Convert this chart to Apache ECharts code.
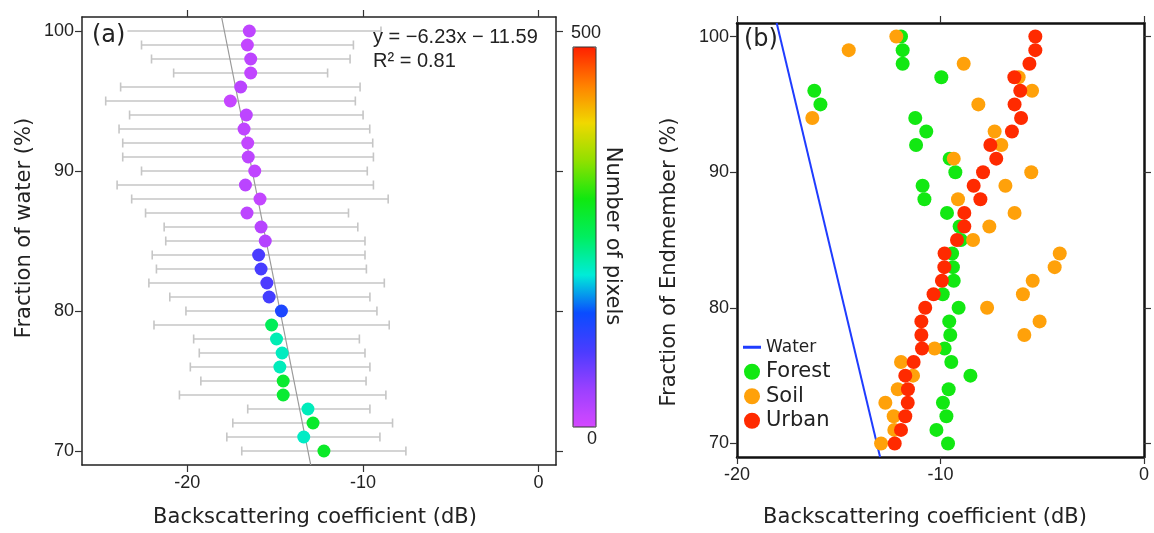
<!DOCTYPE html>
<html><head><meta charset="utf-8">
<style>html,body{margin:0;padding:0;background:#fff}#chart{width:1154px;height:533px}</style>
<script src="https://cdn.jsdelivr.net/npm/echarts@6/dist/echarts.min.js"></script>
</head><body><div id="chart"></div><script>
// ---- data (rows from 100% down to 70%) ----
const fractionLevels = [100,99,98,97,96,95,94,93,92,91,90,89,88,87,86,85,84,83,82,81,80,79,78,77,76,75,74,73,72,71,70];
const waterMean  = [-16.47,-16.58,-16.39,-16.39,-16.96,-17.55,-16.64,-16.77,-16.56,-16.53,-16.16,-16.69,-15.86,-16.6,-15.8,-15.56,-15.94,-15.8,-15.47,-15.34,-14.64,-15.2,-14.92,-14.6,-14.73,-14.54,-14.54,-13.13,-12.84,-13.37,-12.22];
const waterLow   = [-24.0,-22.61,-22.04,-20.78,-23.8,-24.65,-23.29,-23.89,-23.68,-23.68,-22.61,-24.0,-23.17,-22.38,-21.32,-21.23,-22.0,-21.76,-22.19,-21.0,-20.08,-21.9,-19.64,-19.32,-19.83,-19.23,-20.45,-16.56,-17.41,-17.75,-16.9];
const waterHigh  = [-8.97,-10.54,-10.73,-12.01,-10.16,-10.43,-9.99,-9.61,-9.44,-9.4,-9.75,-9.4,-8.56,-10.82,-10.29,-9.88,-9.88,-9.8,-8.78,-9.6,-9.2,-8.5,-10.2,-9.88,-9.6,-9.82,-8.69,-9.6,-8.31,-9.03,-7.55];
const pixelCount = [18,15,20,16,22,12,20,18,15,20,17,22,15,20,25,28,100,102,98,105,135,255,215,210,212,280,278,212,282,208,285];
const fitLineX = [-18.05,-12.97];
const fitLineY = [101,69];

const forestX = [-11.94,-11.86,-11.86,-9.96,-16.2,-15.9,-11.24,-10.7,-11.2,-9.55,-9.27,-10.88,-10.79,-9.68,-9.06,-9.0,-9.43,-9.39,-9.35,-9.89,-9.11,-9.57,-9.52,-9.8,-9.47,-8.53,-9.6,-9.88,-9.71,-10.2,-9.63];
const soilX   = [-12.17,-14.51,-8.86,-6.16,-5.5,-8.14,-16.3,-7.34,-7.01,-9.35,-5.54,-6.81,-9.14,-6.36,-7.6,-8.4,-4.14,-4.39,-5.47,-5.95,-7.71,-5.13,-5.88,-10.29,-11.94,-11.35,-12.1,-12.71,-12.3,-12.27,-12.92];
const urbanX  = [-5.34,-5.34,-5.63,-6.37,-6.08,-6.36,-6.04,-6.49,-7.55,-7.26,-7.91,-8.37,-8.04,-8.83,-8.83,-9.19,-9.8,-9.81,-9.93,-10.34,-10.75,-10.94,-10.94,-10.91,-11.32,-11.73,-11.6,-11.61,-11.73,-11.94,-12.25];
const waterLineX = [-18.05,-12.97];
const waterLineY = [101,69];

const yTicks = [70,80,90,100];
const xTicksA = [-20,-10,0];
const xTicksB = [-20,-10,0];
const colorScale = ['#d448ff','#9a40ff','#4a3cff','#0a4cff','#00ecd8','#00ee60','#10e810','#90e000','#f0d800','#ff8000','#ff2000'];

// ---- build ----
const tickFont = {fontFamily:'Liberation Sans Narrow, Liberation Sans, sans-serif', fontSize:18, color:'#222'};
const nameFont = {fontFamily:'DejaVu Sans', fontSize:21, color:'#222'};
const zip = (xs, ys) => xs.map((x,i)=>[x, ys[i]]);

function xAx(grid, pos, min, max, lw, col, named, pad, gap){
  const ticks = grid===0 ? xTicksA : xTicksB;
  return {type:'value', gridIndex:grid, position:pos, min:min, max:max,
    axisLine:{show:true, onZero:false, lineStyle:{color:col, width:lw}},
    axisTick:{show:true, inside:false, length:7, customValues:ticks, lineStyle:{color:'#333', width:1.2}},
    axisLabel:{show:named, customValues:ticks, margin:9, ...tickFont},
    splitLine:{show:false},
    name: named ? 'Backscattering coefficient (dB)' : '', nameLocation:'middle', nameGap:gap,
    nameTextStyle:{...nameFont, padding:[0,pad,0,0]}};
}
function yAx(grid, pos, lw, col, named, title, padL, padR, gap){
  return {type:'value', gridIndex:grid, position:pos, min:69, max:101,
    axisLine:{show:true, onZero:false, lineStyle:{color:col, width:lw}},
    axisTick:{show:true, inside:false, length:7, customValues:yTicks, lineStyle:{color:'#333', width:1.2}},
    axisLabel:{show:named, customValues:yTicks, margin:8, ...tickFont},
    splitLine:{show:false},
    name: named ? title : '', nameLocation:'middle', nameGap:gap,
    nameTextStyle:{...nameFont, padding:[0,padR,0,padL]}};
}

const errData = fractionLevels.map((f,i)=>[waterLow[i], waterHigh[i], f]);
const meanData = fractionLevels.map((f,i)=>[waterMean[i], f, pixelCount[i]]);

const option = {
  animation:false,
  backgroundColor:'#fff',
  grid:[
    {left:82, top:17, width:474, height:449},
    {left:737, top:23, width:407, height:435}
  ],
  xAxis:[
    xAx(0,'bottom',-26,1,1.5,'#222',true,8,42),
    xAx(0,'top',-26,1,1.5,'#222',false,0,0),
    xAx(1,'bottom',-20,0,2.5,'#111',true,31,50),
    xAx(1,'top',-20,0,2.5,'#111',false,0,0)
  ],
  yAxis:[
    yAx(0,'left',1.5,'#222',true,'Fraction of water (%)',26,0,47),
    yAx(0,'right',1.5,'#222',false,'',0,0,0),
    yAx(1,'left',2.5,'#111',true,'Fraction of Endmember (%)',0,44,57),
    yAx(1,'right',2.5,'#111',false,'',0,0,0)
  ],
  visualMap:{
    type:'continuous', min:0, max:500, dimension:2, seriesIndex:2,
    calculable:false, hoverLink:false, realtime:false,
    left:573, top:47, itemWidth:23, itemHeight:380, padding:0,
    text:null, showLabel:false,
    inRange:{color:colorScale}
  },
  legend:{
    orient:'vertical', left:743, top:335, padding:0, itemGap:0,
    itemWidth:18, itemHeight:16, selectedMode:false,
    textStyle:{fontFamily:'DejaVu Sans', fontSize:21, color:'#222', lineHeight:24.5},
    data:[
      {name:'Water', icon:'path://M0,0 L18,0 L18,3 L0,3 Z', itemStyle:{color:'#1f3cff'}, textStyle:{fontSize:17}},
      {name:'Forest', icon:'circle'},{name:'Soil', icon:'circle'},{name:'Urban', icon:'circle'}
    ]
  },
  series:[
    {type:'custom', name:'range', xAxisIndex:0, yAxisIndex:0, data:errData,
      encode:{x:[0,1], y:2}, silent:true, z:1,
      renderItem:function(params, api){
        const y = api.value(2);
        const p1 = api.coord([api.value(0), y]);
        const p2 = api.coord([api.value(1), y]);
        const h = 4.5;
        const st = {stroke:'#c6c6c6', lineWidth:1.6};
        return {type:'group', children:[
          {type:'line', shape:{x1:p1[0],y1:p1[1],x2:p2[0],y2:p2[1]}, style:st},
          {type:'line', shape:{x1:p1[0],y1:p1[1]-h,x2:p1[0],y2:p1[1]+h}, style:st},
          {type:'line', shape:{x1:p2[0],y1:p2[1]-h,x2:p2[0],y2:p2[1]+h}, style:st}
        ]};
      }},
    {type:'line', name:'fit', xAxisIndex:0, yAxisIndex:0, data:zip(fitLineX, fitLineY),
      symbol:'none', lineStyle:{color:'#999', width:1.2}, z:2, silent:true},
    {type:'scatter', name:'mean', xAxisIndex:0, yAxisIndex:0, data:meanData,
      symbolSize:13, itemStyle:{opacity:1}, z:3},
    {type:'line', name:'Water', xAxisIndex:2, yAxisIndex:2, data:zip(waterLineX, waterLineY),
      symbol:'none', showSymbol:false, color:'#1f3cff', lineStyle:{color:'#1f3cff', width:2}, z:2},
    {type:'scatter', name:'Forest', xAxisIndex:2, yAxisIndex:2, data:zip(forestX, fractionLevels),
      symbolSize:14, itemStyle:{color:'#12e812', opacity:1}, z:3},
    {type:'scatter', name:'Soil', xAxisIndex:2, yAxisIndex:2, data:zip(soilX, fractionLevels),
      symbolSize:14, itemStyle:{color:'#ffa10a', opacity:1}, z:4},
    {type:'scatter', name:'Urban', xAxisIndex:2, yAxisIndex:2, data:zip(urbanX, fractionLevels),
      symbolSize:14, itemStyle:{color:'#ff2a00', opacity:1}, z:5}
  ],
  graphic:[
    {type:'text', left:90, top:22, z:10, style:{text:'(a)', font:'24px DejaVu Sans', fill:'#222', backgroundColor:'#fff', padding:[2,2,2,2]}},
    {type:'text', left:373, top:27, z:10, style:{text:'y = \u22126.23x \u2212 11.59', font:'20px Liberation Sans', fill:'#222'}},
    {type:'text', left:373, top:51, z:10, style:{text:'R\u00b2 = 0.81', font:'20px Liberation Sans', fill:'#222'}},
    {type:'rect', z:10, shape:{x:573, y:47, width:23, height:380}, style:{fill:null, stroke:'#333', lineWidth:1}},
    {type:'text', x:586, y:33, z:10, style:{text:'500', font:'18px Liberation Sans Narrow, Liberation Sans', fill:'#222', align:'center', verticalAlign:'middle'}},
    {type:'text', x:592, y:439, z:10, style:{text:'0', font:'18px Liberation Sans Narrow, Liberation Sans', fill:'#222', align:'center', verticalAlign:'middle'}},
    {type:'text', x:612, y:236, rotation:-Math.PI/2, z:10, style:{text:'Number of pixels', font:'21px DejaVu Sans', fill:'#222', align:'center', verticalAlign:'middle'}},
    {type:'text', left:744, top:28, z:10, style:{text:'(b)', font:'24px DejaVu Sans', fill:'#222'}}
  ]
};
const chart = echarts.init(document.getElementById('chart'), null, {renderer:'canvas'});
chart.setOption(option);
</script></body></html>
